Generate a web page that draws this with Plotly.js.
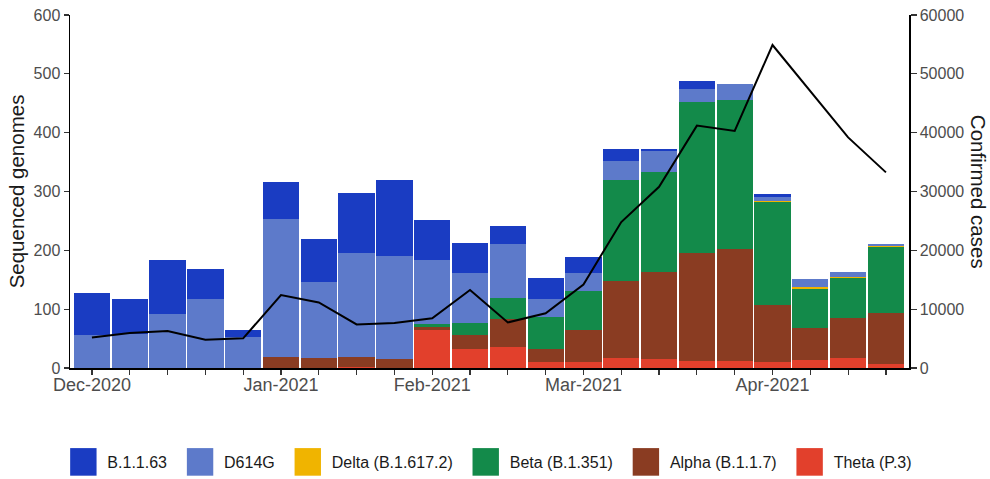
<!DOCTYPE html>
<html>
<head>
<meta charset="utf-8">
<script src="https://cdn.plot.ly/plotly-3.0.1.min.js"></script>
<style>
html,body{margin:0;padding:0;background:#fff;}
#chart{width:990px;height:479px;}
</style>
</head>
<body>
<div id="chart"></div>
<script>
// Weekly periods (index along x), tick labels at month starts
const weeks = [0,1,2,3,4,5,6,7,8,9,10,11,12,13,14,15,16,17,18,19,20,21];
const tickLabels = ["Dec-2020","","","","","Jan-2021","","","","Feb-2021","","","","Mar-2021","","","","","Apr-2021","","",""];

// Sequenced genomes per lineage (stack segments)
const theta  = [0,0,0,0,0,0,0,2,0,65,33,35,11,10,17,16,12,12,11,13,17,7];
const alpha  = [0,0,0,0,0,18,17,16,15,5,23,49,21,55,131,147,183,190,96,55,68,86];
const beta   = [0,0,0,0,0,0,0,0,0,4,20,35,55,66,171,170,257,253,175,66,68,113];
const delta  = [0,0,0,0,0,0,0,0,0,0,0,0,0,0,0,0,0,0,1.5,4,1.5,1.5];
const d614g  = [56,58,91,117,52,235,129,177,175,110,86,92,30,31,32,35,22,27,8,13,8,4];
const b1163  = [71,60,92,51,13,64,73,102,130,67,51,30,36,27,22,4,13,0,4,0,0,0];

// Confirmed cases (right axis)
const cases = [5200,5950,6300,4800,5050,12400,11150,7400,7650,8450,13250,7750,9300,14200,24800,30800,41200,40300,54900,47000,39200,33250];

const seriesNames  = ["Theta (P.3)","Alpha (B.1.1.7)","Beta (B.1.351)","Delta (B.1.617.2)","D614G","B.1.1.63"];
const seriesValues = [theta, alpha, beta, delta, d614g, b1163];
const seriesColors = ["#e2402c","#8a3c22","#138a4a","#f0b400","#5d7aca","#1a3cc2"];

const FONT = "Liberation Sans, Arial, sans-serif";

const traces = seriesNames.map((n,i)=>({
  type:"bar", name:n, x:weeks, y:seriesValues[i],
  marker:{color:seriesColors[i], line:{width:0}},
  hoverinfo:"skip"
}));
traces.push({
  type:"scatter", mode:"lines", x:weeks, y:cases, yaxis:"y2",
  line:{color:"#000", width:2}, showlegend:false, hoverinfo:"skip"
});

const axCommon = {
  showline:true, linecolor:"#000", linewidth:1.5, showgrid:false, zeroline:false,
  ticks:"outside", ticklen:5, tickwidth:1.2, tickcolor:"#333", automargin:false,
  tickfont:{family:FONT, size:16, color:"#4d4d4d"}
};

const layout = {
  width:990, height:479,
  margin:{l:70, r:81, t:15, b:111, autoexpand:false},
  paper_bgcolor:"#fff", plot_bgcolor:"#fff",
  barmode:"stack", bargap:0.04,
  font:{family:FONT},
  xaxis:Object.assign({}, axCommon, {
    range:[-0.58, 21.61], tickmode:"array", tickvals:weeks, ticktext:tickLabels,
    ticklabelstandoff:-5, tickfont:{family:FONT, size:18, color:"#4d4d4d"}
  }),
  yaxis:Object.assign({}, axCommon, {
    range:[0,600], dtick:100, tick0:0,
    title:{text:"Sequenced genomes", font:{family:FONT, size:20.5, color:"#1a1a1a"}, standoff:3}
  }),
  yaxis2:Object.assign({}, axCommon, {
    range:[0,60000], dtick:10000, tick0:0, overlaying:"y", side:"right", tickformat:"d",
    ticklen:6
  }),
  annotations:[{
    text:"Confirmed cases", xref:"paper", yref:"paper", x:1.083, y:0.5,
    xanchor:"center", yanchor:"middle", textangle:90, showarrow:false,
    font:{family:FONT, size:20.5, color:"#1a1a1a"}
  }],
  legend:{
    orientation:"h", xref:"container", x:0.064, xanchor:"left",
    yref:"container", y:0.0355, yanchor:"middle",
    traceorder:"reversed", font:{family:FONT, size:16, color:"#1a1a1a"},
    bgcolor:"rgba(0,0,0,0)"
  },
  showlegend:true
};

Plotly.newPlot("chart", traces, layout, {staticPlot:true, displayModeBar:false}).then(()=>{
  // larger square swatches as in the reference
  document.querySelectorAll(".legend .legendpoints path").forEach(p=>{
    const t = p.getAttribute("transform") || "";
    p.setAttribute("transform", t + " scale(2.2,2.3)");
  });
  // widen spacing between legend entries and let them show fully
  document.querySelectorAll(".legend [clip-path]").forEach(el=>el.removeAttribute("clip-path"));
  const items = Array.from(document.querySelectorAll(".legend .traces"));
  items.forEach((g,i)=>{
    const t = g.getAttribute("transform") || "";
    const m = t.match(/translate\(\s*([-\d.]+)[ ,]+([-\d.]+)\s*\)/);
    if(m){
      g.setAttribute("transform", "translate(" + (parseFloat(m[1]) + i*12) + "," + m[2] + ")");
    }
    const tx = g.querySelector("text.legendtext");
    if(tx){ tx.setAttribute("x", parseFloat(tx.getAttribute("x")||40) + 4); }
  });
});
</script>
</body>
</html>
